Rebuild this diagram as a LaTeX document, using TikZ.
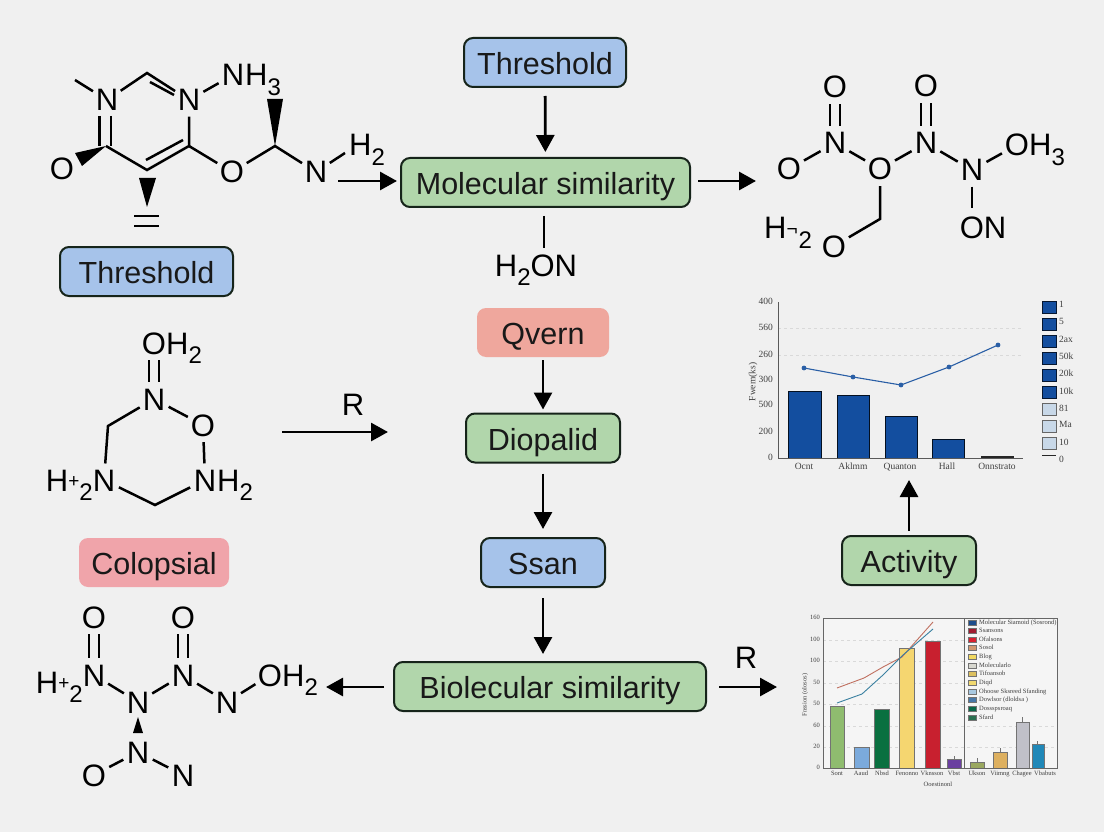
\documentclass[tikz,border=0pt]{standalone}
\usepackage{fontspec}
\setmainfont{Liberation Sans}
\newfontfamily\chartfont{Liberation Serif}
\usetikzlibrary{arrows.meta}
\definecolor{pagegrey}{HTML}{F0F0F0}
\definecolor{boxblue}{HTML}{A6C3EA}
\definecolor{boxgreen}{HTML}{B1D6AB}
\definecolor{boxred}{HTML}{EFA79D}
\definecolor{boxpink}{HTML}{F0A4AA}
\definecolor{boxline}{HTML}{16241A}
\definecolor{barblue}{HTML}{134E9F}
\definecolor{lineblue}{HTML}{2A5FA6}
\definecolor{palebar}{HTML}{C8D8E8}
\definecolor{plotrose}{HTML}{C07060}
\definecolor{plotteal}{HTML}{3A80A0}
\newcommand{\atomsub}[1]{\raisebox{-.3em}{\fontsize{24}{24}\selectfont #1}}
\newcommand{\atomtiny}[1]{\raisebox{.1em}{\fontsize{19}{19}\selectfont #1}}
\tikzset{
  flowbox/.style={rounded corners=9pt, minimum height=49pt, inner sep=0pt, text height=24pt, text depth=0pt, font=\fontsize{30.5}{32}\selectfont, text=black!90},
  bluebox/.style={flowbox, draw=boxline, line width=2pt, fill=boxblue},
  greenbox/.style={flowbox, draw=boxline, line width=2pt, fill=boxgreen},
  redbox/.style={flowbox, fill=boxred},
  pinkbox/.style={flowbox, fill=boxpink},
  atom/.style={circle, inner sep=0.5pt, text height=22pt, text depth=0pt, font=\fontsize{31}{32}\selectfont},
  tailatom/.style={inner sep=0pt, text height=22pt, text depth=0pt, font=\fontsize{31}{32}\selectfont},
  bond/.style={line width=2.5pt},
  dblbond/.style={line width=12.4pt, draw=black, postaction={draw=pagegrey, line width=7.4pt}},
  flow/.style={-{Triangle[length=17pt,width=18pt]}, line width=2.8pt},
  tick/.style={inner sep=0pt, text height=6.5pt, text depth=2pt, font=\chartfont\fontsize{9.5}{10}\selectfont, text=black!75},
  smalltick/.style={inner sep=0pt, text height=4.5pt, text depth=1.5pt, font=\chartfont\fontsize{6.5}{7}\selectfont, text=black!75},
  bluebar/.style={fill=barblue, draw=black!80!barblue, line width=0.8pt},
  legdark/.style={fill=barblue, draw=black!70!barblue, line width=0.7pt},
  legpale/.style={fill=palebar, draw=black!60, line width=0.7pt},
  colbar/.style={draw=black!55, line width=0.6pt},
  guide/.style={black!15, dashed, line width=0.5pt},
}
\begin{document}
\begin{tikzpicture}[x=1pt,y=-1pt]
\useasboundingbox[fill=pagegrey] (0,0) rectangle (1104,832);

% boxes
\node[bluebox, minimum width=162pt] (topthr) at (545,62.5) {Threshold};
\node[greenbox, minimum width=289pt] (molsim) at (545.5,182.5) {Molecular similarity};
\node[bluebox, minimum width=173pt] (leftthr) at (146.5,271.5) {Threshold};
\node[redbox, minimum width=132pt] (qvern) at (543,332.5) {Qvern};
\node[greenbox, minimum width=154pt] (diop) at (543,438) {Diopalid};
\node[bluebox, minimum width=124pt] (ssan) at (543,562.5) {Ssan};
\node[pinkbox, minimum width=150pt] (colop) at (154,562.5) {Colopsial};
\node[greenbox, minimum width=134pt] (activ) at (909,560.5) {Activity};
\node[greenbox, minimum width=312pt] (biomol) at (550,686.5) {Biolecular similarity};

% first molecule
\node[atom] (an1) at (107,100) {N};
\node[atom] (an2) at (189,100) {N};
\node[atom] (an3) at (233,75) {N};
\node[tailatom, anchor=west] (ah3) at (245,75) {H\atomsub{3}};
\node[atom] (ao1) at (62,169) {O};
\node[atom] (ao2) at (232,172) {O};
\node[atom] (an4) at (316,172) {N};
\node[tailatom, anchor=west] (ah2) at (349,145) {H\atomsub{2}};
\coordinate (ame) at (75,80);
\coordinate (actop) at (147,73);
\coordinate (acrt) at (189,146);
\coordinate (acbt) at (147,170);
\coordinate (aclf) at (106,146);
\coordinate (achi) at (275,146);
\coordinate (abr) at (345,153);
\draw[bond] (ame) -- (an1);
\draw[bond] (an1) -- (actop) -- (an2);
\draw[bond] (150,82) -- (174,95);
\draw[bond] (an2) -- (an3);
\draw[bond] (an2) -- (acrt) -- (acbt) -- (aclf);
\draw[bond] (183,140) -- (146,160);
\draw[bond] (99.5,116) -- (99.5,146);
\draw[bond] (111,116) -- (111,146);
\draw[bond] (acrt) -- (ao2) -- (achi) -- (an4) -- (abr);
\fill (aclf) -- (75,153) -- (82,166) -- cycle;
\fill (achi) -- (267,99) -- (283,99) -- cycle;
\fill (147,207) -- (139,178) -- (156,178) -- cycle;
\draw[bond] (134,216) -- (159,216);
\draw[bond] (134,226) -- (159,226);

% second molecule
\node[atom] (bo1) at (835,87) {O};
\node[atom] (bn1) at (835,143) {N};
\node[atom] (bo2) at (789,169) {O};
\node[atom] (bo3) at (880,169) {O};
\node[atom] (bn2) at (926,143) {N};
\node[atom] (bo4) at (926,86) {O};
\node[atom] (bn3) at (972,170) {N};
\node[atom] (bo5) at (1017,145) {O};
\node[tailatom, anchor=west] (bh3) at (1029,145) {H\atomsub{3}};
\node[tailatom, anchor=center] (bon) at (983,227) {ON};
\node[atom] (bo6) at (834,246) {O};
\node[tailatom, anchor=west] (bh2) at (764,228) {H\atomtiny{¬}\hspace{1pt}\atomsub{2}};
\coordinate (bbe) at (880,219);
\coordinate (bvt) at (972,208);
\draw[dblbond] (bo1) -- (bn1);
\draw[dblbond] (bo4) -- (bn2);
\draw[bond] (bn1) -- (bo2);
\draw[bond] (bn1) -- (bo3);
\draw[bond] (bo3) -- (bn2);
\draw[bond] (bn2) -- (bn3);
\draw[bond] (bn3) -- (bo5);
\draw[bond] (bn3) -- (bvt);
\draw[bond] (bo3) -- (bbe) -- (bo6);

% third molecule
\node[atom] (co1) at (154,343) {O};
\node[tailatom, anchor=west] (ch2) at (166,343) {H\atomsub{2}};
\node[atom] (cn1) at (154,399) {N};
\node[atom] (co2) at (203,425) {O};
\node[atom] (cn2) at (205,480) {N};
\node[tailatom, anchor=west] (ch3) at (217,480) {H\atomsub{2}};
\node[atom] (cn3) at (104,480) {N};
\node[tailatom, anchor=east] (ch4) at (93,480) {H\atomtiny{+}\atomsub{2}};
\coordinate (ccb) at (155,505);
\coordinate (ccl) at (108,426);
\draw[dblbond] (co1) -- (cn1);
\draw[bond] (cn1) -- (co2) -- (cn2) -- (ccb) -- (cn3) -- (ccl) -- (cn1);

% fourth molecule
\node[atom] (do1) at (94,617) {O};
\node[atom] (dn1) at (94,675) {N};
\node[tailatom, anchor=east] (dh1) at (83,682) {H\atomtiny{+}\atomsub{2}};
\node[atom] (dn2) at (138,702) {N};
\node[atom] (dn3) at (183,675) {N};
\node[atom] (do2) at (183,617) {O};
\node[atom] (dn4) at (227,702) {N};
\node[atom] (do3) at (270,675) {O};
\node[tailatom, anchor=west] (dh2) at (282,675) {H\atomsub{2}};
\node[atom] (dn5) at (138,752) {N};
\node[atom] (do4) at (94,775) {O};
\node[atom] (dn6) at (183,775) {N};
\draw[dblbond] (do1) -- (dn1);
\draw[dblbond] (do2) -- (dn3);
\draw[bond] (dn1) -- (dn2) -- (dn3) -- (dn4) -- (do3);
\draw[bond] (do4) -- (dn5) -- (dn6);
\fill (138,717) -- (133,733) -- (143,733) -- cycle;

% free ends of the arrows
\coordinate (fromn) at (338,181);
\coordinate (toout) at (756,181);
\node[tailatom, anchor=center] (hon) at (536,265) {H\atomsub{2}ON};
\coordinate (hontop) at (544,248);
\coordinate (rstart) at (282,432);
\coordinate (rstop) at (388,432);
\coordinate (tobot) at (326,687);
\coordinate (toright) at (777,687);
\coordinate (tochart) at (909,480);

\draw[flow, shorten >=3pt] (fromn) -- (molsim.west |- fromn);
\draw[flow, shorten >=5pt, shorten <=8pt] (topthr) -- (molsim);
\draw[flow, shorten <=7pt] (molsim.east |- toout) -- (toout);
\draw[line width=1.8pt, shorten <=8pt] (hontop |- molsim.south) -- (hontop);
\draw[flow, shorten >=3pt, shorten <=3pt] (qvern) -- (diop);
\draw[flow, shorten >=8pt, shorten <=10pt] (diop) -- (ssan);
\draw[flow, shorten >=7pt, shorten <=10pt] (ssan) -- (ssan |- biomol.north);
\draw[flow] (rstart) -- (rstop);
\node[tailatom, anchor=center] (rmid) at (353,404) {R};
\draw[flow, shorten <=9pt] (biomol.west |- tobot) -- (tobot);
\draw[flow, shorten <=12pt] (biomol.east |- toright) -- (toright);
\node[tailatom, anchor=center] (rbot) at (746,657) {R};
\draw[flow, shorten <=4pt] (activ) -- (tochart);

% upper chart
\draw[guide] (778,328) -- (1023,328);
\draw[guide] (778,355) -- (1023,355);
\draw[bluebar] (788,391) rectangle (821,458);
\draw[bluebar] (837,395) rectangle (869,458);
\draw[bluebar] (885,416) rectangle (917,458);
\draw[bluebar] (932,439) rectangle (964,458);
\draw[fill=black!85, draw=black!85] (981,456) rectangle (1013,458);
\draw[black!65, line width=0.9pt] (778,302) -- (778,458) -- (1023,458);
\draw[lineblue, line width=1.1pt] (804,368) -- (853,377) -- (901,385) -- (949,367) -- (998,345);
\fill[lineblue] (804,368) circle (2.4pt);
\fill[lineblue] (853,377) circle (2.4pt);
\fill[lineblue] (901,385) circle (2.4pt);
\fill[lineblue] (949,367) circle (2.4pt);
\fill[lineblue] (998,345) circle (2.4pt);
\node[tick, anchor=east] (ua) at (773,302) {400};
\node[tick, anchor=east] (ub) at (773,328) {560};
\node[tick, anchor=east] (uc) at (773,355) {260};
\node[tick, anchor=east] (ud) at (773,380) {300};
\node[tick, anchor=east] (ue) at (773,405) {500};
\node[tick, anchor=east] (uf) at (773,432) {200};
\node[tick, anchor=east] (ug) at (773,458) {0};
\node[tick, rotate=90] (uy) at (753,382) {Fwem(ks)};
\node[tick] (ux1) at (804,467) {Ocnt};
\node[tick] (ux2) at (853,467) {Aklmm};
\node[tick] (ux3) at (900,467) {Quanton};
\node[tick] (ux4) at (947,467) {Hall};
\node[tick] (ux5) at (997,467) {Onnstrato};
\draw[legdark] (1042,301) rectangle (1056,313);
\draw[legdark] (1042,318) rectangle (1056,330);
\draw[legdark] (1042,335) rectangle (1056,347);
\draw[legdark] (1042,352) rectangle (1056,364);
\draw[legdark] (1042,369) rectangle (1056,381);
\draw[legdark] (1042,386) rectangle (1056,398);
\draw[legpale] (1042,403) rectangle (1056,415);
\draw[legpale] (1042,420) rectangle (1056,432);
\draw[legpale] (1042,437) rectangle (1056,449);
\draw[black!85, line width=0.9pt] (1042,455) -- (1056,455);
\node[tick, anchor=west] (ul1) at (1059,305) {1};
\node[tick, anchor=west] (ul2) at (1059,322) {5};
\node[tick, anchor=west] (ul3) at (1059,340) {2ax};
\node[tick, anchor=west] (ul4) at (1059,357) {50k};
\node[tick, anchor=west] (ul5) at (1059,374) {20k};
\node[tick, anchor=west] (ul6) at (1059,392) {10k};
\node[tick, anchor=west] (ul7) at (1059,409) {81};
\node[tick, anchor=west] (ul8) at (1059,425) {Ma};
\node[tick, anchor=west] (ul9) at (1059,443) {10};
\node[tick, anchor=west] (ul10) at (1059,460) {0};

% lower chart
\fill[white!30!pagegrey] (823,618) rectangle (1057,768);
\draw[guide] (823,640) -- (964,640);
\draw[guide] (823,661) -- (964,661);
\draw[guide] (823,683) -- (964,683);
\draw[guide] (823,704) -- (964,704);
\draw[guide] (823,726) -- (1057,726);
\draw[guide] (823,747) -- (1057,747);
\draw[colbar, fill={rgb,255:red,143;green,188;blue,111}] (830,706) rectangle (844,768);
\draw[colbar, fill={rgb,255:red,123;green,170;blue,220}] (854,747) rectangle (869,768);
\draw[colbar, fill={rgb,255:red,10;green,112;blue,64}] (874,709) rectangle (889,768);
\draw[colbar, fill={rgb,255:red,245;green,214;blue,112}] (899,648) rectangle (914,768);
\draw[colbar, fill={rgb,255:red,200;green,32;blue,47}] (925,641) rectangle (940,768);
\draw[colbar, fill={rgb,255:red,106;green,63;blue,160}] (947,759) rectangle (961,768);
\draw[colbar, fill={rgb,255:red,154;green,168;blue,96}] (970,762) rectangle (984,768);
\draw[colbar, fill={rgb,255:red,221;green,176;blue,96}] (993,752) rectangle (1007,768);
\draw[colbar, fill={rgb,255:red,192;green,192;blue,200}] (1016,722) rectangle (1029,768);
\draw[colbar, fill={rgb,255:red,32;green,136;blue,184}] (1032,744) rectangle (1044,768);
\draw[black!55, line width=0.5pt] (954,759) -- (954,756);
\draw[black!55, line width=0.5pt] (977,762) -- (977,758);
\draw[black!55, line width=0.5pt] (1000,752) -- (1000,748);
\draw[black!55, line width=0.5pt] (1022,722) -- (1022,717);
\draw[black!55, line width=0.5pt] (1037,744) -- (1037,741);
\draw[plotrose, line width=0.9pt] (837,688) -- (864,678) -- (883,667) -- (902,657) -- (933,622);
\draw[plotteal, line width=0.9pt] (837,703) -- (862,694) -- (883,675) -- (903,655) -- (933,629);
\draw[black!60, line width=0.7pt] (823,618) rectangle (1057,768);
\draw[black!60, line width=0.7pt] (964,618) -- (964,768);
\node[smalltick, anchor=east] (la) at (820,618) {160};
\node[smalltick, anchor=east] (lb) at (820,640) {100};
\node[smalltick, anchor=east] (lc) at (820,661) {100};
\node[smalltick, anchor=east] (ld) at (820,683) {50};
\node[smalltick, anchor=east] (le) at (820,704) {50};
\node[smalltick, anchor=east] (lf) at (820,726) {60};
\node[smalltick, anchor=east] (lg) at (820,747) {20};
\node[smalltick, anchor=east] (lh) at (820,768) {0};
\node[smalltick, rotate=90] (ly) at (805,695) {Fnssion (olosos)};
\node[smalltick] (lx1) at (837,774) {Sont};
\node[smalltick] (lx2) at (861,774) {Aaud};
\node[smalltick] (lx3) at (882,774) {Nbsd};
\node[smalltick] (lx4) at (907,774) {Fenonno};
\node[smalltick] (lx5) at (932,774) {Vknsson};
\node[smalltick] (lx6) at (954,774) {Vbst};
\node[smalltick] (lx7) at (977,774) {Ukson};
\node[smalltick] (lx8) at (1000,774) {Viimng};
\node[smalltick] (lx9) at (1022,774) {Chagee};
\node[smalltick] (lx10) at (1045,774) {Vbabuts};
\node[smalltick] (lt) at (938,785) {Ooestinonl};
\draw[colbar, fill={rgb,255:red,30;green,78;blue,140}] (968,620.5) rectangle (976,625.5);
\draw[colbar, fill={rgb,255:red,160;green,28;blue,48}] (968,628.5) rectangle (976,633.5);
\draw[colbar, fill={rgb,255:red,216;green,32;blue,47}] (968,637.5) rectangle (976,642.5);
\draw[colbar, fill={rgb,255:red,208;green,152;blue,112}] (968,645.5) rectangle (976,650.5);
\draw[colbar, fill={rgb,255:red,240;green,216;blue,96}] (968,654.5) rectangle (976,659.5);
\draw[colbar, fill={rgb,255:red,216;green,216;blue,208}] (968,663.5) rectangle (976,668.5);
\draw[colbar, fill={rgb,255:red,220;green,192;blue,96}] (968,671.5) rectangle (976,676.5);
\draw[colbar, fill={rgb,255:red,240;green,216;blue,112}] (968,680.5) rectangle (976,685.5);
\draw[colbar, fill={rgb,255:red,168;green,200;blue,224}] (968,689.5) rectangle (976,694.5);
\draw[colbar, fill={rgb,255:red,72;green,120;blue,168}] (968,697.5) rectangle (976,702.5);
\draw[colbar, fill={rgb,255:red,10;green,104;blue,72}] (968,706.5) rectangle (976,711.5);
\draw[colbar, fill={rgb,255:red,42;green,112;blue,80}] (968,715.5) rectangle (976,720.5);
\node[smalltick, anchor=west] (lk1) at (979,623) {Molecular Siamoid (Sosrond)};
\node[smalltick, anchor=west] (lk2) at (979,631) {Ssansons};
\node[smalltick, anchor=west] (lk3) at (979,640) {Ofalsons};
\node[smalltick, anchor=west] (lk4) at (979,648) {Sosol};
\node[smalltick, anchor=west] (lk5) at (979,657) {Blog};
\node[smalltick, anchor=west] (lk6) at (979,666) {Molecularlo};
\node[smalltick, anchor=west] (lk7) at (979,674) {Tifoansob};
\node[smalltick, anchor=west] (lk8) at (979,683) {Diqd};
\node[smalltick, anchor=west] (lk9) at (979,692) {Ohoose Sksreed Sfanding};
\node[smalltick, anchor=west] (lk10) at (979,700) {Dowlsor (dloldsa )};
\node[smalltick, anchor=west] (lk11) at (979,709) {Dossspsroaq};
\node[smalltick, anchor=west] (lk12) at (979,718) {Sfard};
\end{tikzpicture}
\end{document}
